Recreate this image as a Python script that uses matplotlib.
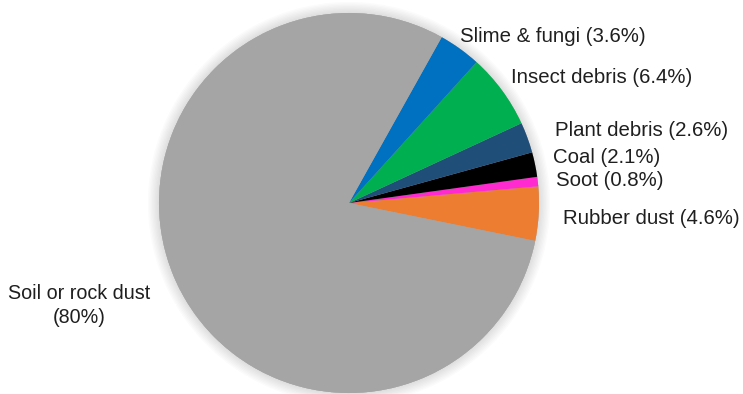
import matplotlib.pyplot as plt
import matplotlib.patheffects as pe
from matplotlib.patches import Circle

plt.rcParams['font.family'] = ['Liberation Sans', 'DejaVu Sans']

# slices counterclockwise from just below the 3 o'clock position
names = ['Rubber dust', 'Soot', 'Coal', 'Plant debris', 'Insect debris',
         'Slime & fungi', 'Soil or rock dust']
shares = [4.6, 0.8, 2.1, 2.6, 6.4, 3.6, 80.0]
share_text = ['4.6%', '0.8%', '2.1%', '2.6%', '6.4%', '3.6%', '80%']
colors = ['#ED7D31', '#FF2BD0', '#000000', '#1F4E79', '#00B050',
          '#0070C0', '#A5A5A5']

# label placement (data units, pie radius = 1)
label_pos = [(1.126, -0.084), (1.089, 0.121), (1.074, 0.237), (1.084, 0.379),
             (0.853, 0.658), (0.584, 0.874), (-1.42, -0.54)]

fig = plt.figure(figsize=(7.43, 3.94), dpi=100)
W, H = 743, 394
cx, cy, r = 349, 203, 190
ax = fig.add_axes([(cx - r) / W, (H - cy - r) / H, 2 * r / W, 2 * r / H])

wedges, _ = ax.pie(shares, colors=colors, startangle=-11.5, counterclock=True,
                   radius=1, center=(0, 0), frame=True,
                   wedgeprops=dict(linewidth=0, clip_on=False))
ax.set_xlim(-1, 1)
ax.set_ylim(-1, 1)
ax.axis('off')

# soft shadow behind the pie
shadow = Circle((0, 0), 1, facecolor='#A5A5A5', edgecolor='none', zorder=0,
                clip_on=False)
shadow.set_path_effects([pe.Stroke(linewidth=lw, foreground='black', alpha=0.015)
                         for lw in range(16, 0, -2)] + [pe.Normal()])
ax.add_patch(shadow)

for name, txt, (x, y) in zip(names, share_text, label_pos):
    if name.startswith('Soil'):
        ax.text(x, y, f'{name}\n({txt})', ha='center', va='center',
                fontsize=14.2, color='#1f1f1f', linespacing=1.3)
    else:
        ax.text(x, y, f'{name} ({txt})', ha='left', va='center',
                fontsize=14.7, color='#1f1f1f')

fig.savefig('out.png', dpi=100, facecolor='white')
